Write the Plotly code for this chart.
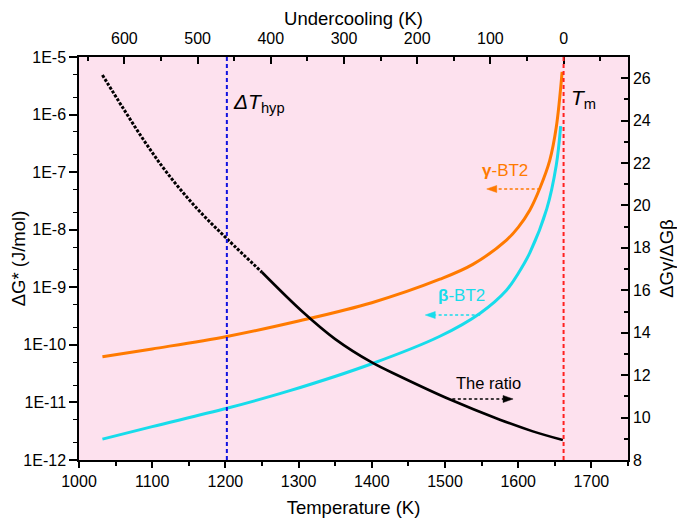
import plotly.graph_objects as go

# ---------------- data ----------------
T_MELT = 1662          # K, red dashed line (undercooling = 0)
T_HYP = 1202           # K, blue dashed line (ΔT_hyp)

temp_gamma = [1032, 1100, 1202, 1300, 1400, 1493, 1538, 1584, 1600, 1616, 1630, 1643, 1652, 1660]
dg_gamma = [6.2e-11, 8.5e-11, 1.4e-10, 2.6e-10, 5.4e-10, 1.38e-9, 2.5e-9, 6.6e-9,
            1.1e-8, 2.2e-8, 5.4e-8, 1.58e-7, 6.0e-7, 5.5e-6]

temp_beta = [1032, 1100, 1202, 1288, 1400, 1493, 1548, 1584, 1600, 1616, 1639, 1652, 1658]
dg_beta = [2.3e-12, 3.8e-12, 7.9e-12, 1.6e-11, 4.7e-11, 1.41e-10, 3.55e-10, 8.9e-10,
           1.74e-9, 4.0e-9, 2.3e-8, 1.32e-7, 6.3e-7]

temp_ratio = [1032, 1060, 1090, 1120, 1160, 1203, 1250, 1305, 1350, 1400, 1438, 1507, 1575, 1620, 1661]
ratio = [26.15, 24.6, 23.0, 21.55, 19.9, 18.4, 16.85, 15.0, 13.7, 12.6, 11.95, 10.85, 9.9, 9.35, 8.94]
DOTTED_UNTIL = 7   # first points look dotted (spread-out symbols)

left_tickvals = [1e-12, 1e-11, 1e-10, 1e-9, 1e-8, 1e-7, 1e-6, 1e-5]
left_ticktext = ["1E-12", "1E-11", "1E-10", "1E-9", "1E-8", "1E-7", "1E-6", "1E-5"]

X_RANGE = [1000, 1750]

# ---------------- style ----------------
FONT = "Liberation Sans, Arial, sans-serif"
ORANGE = "#FF7A00"
CYAN = "#17DCEB"
PINK = "#FDE1EE"
BODY = 8                      # default page margin of the html body
W, H = 685 - BODY, 526 - BODY
L, R, T, B = 79 - BODY, 57, 57 - BODY, 66
PW, PH = W - L - R, H - T - B
TICK_SIZE = 16
TITLE_SIZE = 18.5

fig = go.Figure()

fig.add_trace(go.Scatter(x=temp_gamma, y=dg_gamma, mode="lines",
                         line=dict(color=ORANGE, width=3, shape="spline", smoothing=1.0),
                         xaxis="x", yaxis="y", showlegend=False))
fig.add_trace(go.Scatter(x=temp_beta, y=dg_beta, mode="lines",
                         line=dict(color=CYAN, width=3, shape="spline", smoothing=1.0),
                         xaxis="x", yaxis="y", showlegend=False))
fig.add_trace(go.Scatter(x=temp_ratio[:DOTTED_UNTIL], y=ratio[:DOTTED_UNTIL], mode="lines",
                         line=dict(color="black", width=3, shape="spline", smoothing=1.0,
                                   dash="3px,1.6px"),
                         xaxis="x", yaxis="y2", showlegend=False))
fig.add_trace(go.Scatter(x=temp_ratio[DOTTED_UNTIL - 1:], y=ratio[DOTTED_UNTIL - 1:], mode="lines",
                         line=dict(color="black", width=2.6, shape="spline", smoothing=1.0),
                         xaxis="x", yaxis="y2", showlegend=False))
# invisible trace so the top (undercooling) axis is laid out
fig.add_trace(go.Scatter(x=[T_MELT - X_RANGE[0], T_MELT - X_RANGE[1]], y=[1e-9, 1e-9],
                         mode="markers", marker=dict(opacity=0), hoverinfo="skip",
                         xaxis="x2", yaxis="y", showlegend=False))

axis_common = dict(showline=True, linecolor="black", linewidth=1.5, showgrid=False,
                   zeroline=False, tickcolor="black", tickwidth=1.5, automargin=False,
                   tickfont=dict(family=FONT, size=TICK_SIZE, color="black"))

fig.update_layout(
    width=W, height=H,
    margin=dict(l=L, r=R, t=T, b=B, pad=0),
    paper_bgcolor="white", plot_bgcolor=PINK,
    font=dict(family=FONT, color="black"),
    xaxis=dict(range=X_RANGE, ticks="outside", ticklen=6, dtick=100, tick0=1000,
               minor=dict(dtick=50, ticks="outside", ticklen=4, tickcolor="black", tickwidth=1.5),
               title=dict(text="Temperature (K)", font=dict(family=FONT, size=TITLE_SIZE), standoff=12),
               **axis_common),
    xaxis2=dict(overlaying="x", side="top", anchor="y",
                range=[T_MELT - X_RANGE[0], T_MELT - X_RANGE[1]],
                ticks="inside", ticklen=7, dtick=100, tick0=0, ticklabelstandoff=5,
                minor=dict(dtick=50, ticks="inside", ticklen=4, tickcolor="black", tickwidth=1.5),
                title=dict(text="Undercooling (K)", font=dict(family=FONT, size=TITLE_SIZE), standoff=0),
                **axis_common),
    yaxis=dict(type="log", range=[-12, -5], tickvals=left_tickvals, ticktext=left_ticktext,
               ticks="outside", ticklen=8,
               minor=dict(ticks="outside", ticklen=4, tickcolor="black", tickwidth=1.2),
               title=dict(text="ΔG* (J/mol)", font=dict(family=FONT, size=TITLE_SIZE), standoff=5),
               **axis_common),
    yaxis2=dict(overlaying="y", side="right", anchor="x", range=[8, 27],
                ticks="inside", ticklen=7, dtick=2, tick0=8,
                minor=dict(dtick=1, ticks="inside", ticklen=4, tickcolor="black", tickwidth=1.5),
                title=dict(text="ΔGγ/ΔGβ", font=dict(family=FONT, size=TITLE_SIZE), standoff=10),
                **axis_common),
)

# vertical reference lines
fig.add_shape(type="line", xref="x", yref="paper", x0=T_HYP, x1=T_HYP, y0=0, y1=1,
              line=dict(color="#1010E0", width=2, dash="4px,3px"))
fig.add_shape(type="line", xref="x", yref="paper", x0=T_MELT, x1=T_MELT, y0=0, y1=1,
              line=dict(color="#FF2020", width=2, dash="4px,3px"))

K_PER_PX = (X_RANGE[1] - X_RANGE[0]) / PW
PAPER_PER_PX = 1.0 / PH


def dashed_arrow(x_tail, x_head, y, color):
    direction = 1 if x_head > x_tail else -1
    head_len = 10 * K_PER_PX
    half_w = 3.5 * PAPER_PER_PX
    base = x_head - direction * head_len
    fig.add_shape(type="line", xref="x", yref="paper", x0=x_tail, x1=base, y0=y, y1=y,
                  line=dict(color=color, width=1.5, dash="3px,2.5px"))
    fig.add_shape(type="path", xref="x", yref="paper",
                  path=f"M {x_head} {y} L {base} {y + half_w} L {base} {y - half_w} Z",
                  fillcolor=color, line=dict(color=color, width=0.5))


dashed_arrow(1630, 1557, 0.6725, ORANGE)
dashed_arrow(1548, 1473, 0.3598, CYAN)
dashed_arrow(1510, 1593, 0.1514, "black")


def label(x, y, text, size, color, xanchor="center"):
    fig.add_annotation(x=x, y=y, xref="x", yref="paper", showarrow=False,
                       xanchor=xanchor, yanchor="middle", text=text,
                       font=dict(family=FONT, size=size, color=color))


label(1582, 0.7196, "<b>γ</b>-BT2", 17, ORANGE)
label(1523, 0.4094, "<b>β</b>-BT2", 17, CYAN)
label(1559, 0.191, "The ratio", 16.5, "black")
label(1207, 0.885, "<i>ΔT</i><sub>hyp</sub>", 21, "black", "left")
label(1669, 0.897, "<i>T</i><sub>m</sub>", 21, "black", "left")

fig.write_html("out.html")
